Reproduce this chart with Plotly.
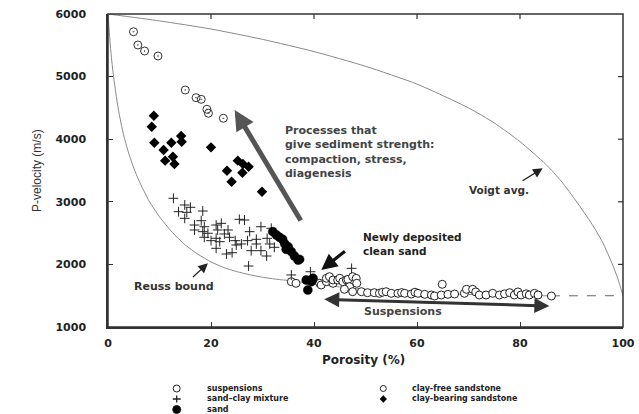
import plotly.graph_objects as go

# ---------------- data ----------------
# Voigt average and Reuss bound (porosity %, P-velocity m/s)
voigt_phi = [0, 10, 20, 30, 40, 50, 60, 70, 75, 80, 85, 88, 91, 94, 96, 98, 99, 100]
voigt_v = [6000, 5890, 5760, 5595, 5400, 5165, 4880, 4500, 4260, 3960, 3600, 3330, 3000, 2640, 2360, 1990, 1770, 1500]

reuss_phi = [0, 0.5, 1, 2, 3, 4, 5, 6, 8, 10, 12.5, 15, 17.5, 20, 22.5, 25, 27.5, 30, 33, 36,
             40, 45, 50, 55, 60, 65, 70, 75, 80, 86, 90, 95, 100]
reuss_v = [6000, 5450, 5050, 4480, 4080, 3780, 3540, 3340, 3010, 2760, 2510, 2310, 2160, 2040, 1950,
           1885, 1835, 1795, 1760, 1735, 1690, 1640, 1600, 1570, 1548, 1532, 1520, 1510, 1503, 1498,
           1497, 1497, 1500]

susp_phi = [35.6, 36.5, 41.1, 41.4, 42.4, 42.4, 43.0, 43.7, 43.7, 44.6, 45.0, 45.6, 46.3, 46.6, 47.5,
            48.2, 48.3, 46.9, 45.9, 47.5, 49.2, 50.4, 51.7, 52.7, 53.3, 54.0, 55.0, 56.3, 57.0, 57.6,
            58.9, 59.6, 60.2, 61.5, 62.8, 63.4, 64.7, 64.9, 66.0, 67.3, 69.2, 69.6, 70.8, 71.4, 72.1,
            73.4, 74.7, 76.0, 77.0, 78.0, 78.9, 79.6, 80.2, 81.2, 81.8, 82.8, 83.5, 86.1]
susp_v = [1724, 1698, 1698, 1671, 1724, 1778, 1804, 1698, 1751, 1751, 1778, 1724, 1751, 1761, 1804,
          1777, 1698, 1644, 1602, 1564, 1564, 1548, 1548, 1538, 1555, 1564, 1538, 1538, 1550, 1538,
          1527, 1555, 1538, 1522, 1511, 1495, 1511, 1682, 1522, 1527, 1538, 1602, 1602, 1560, 1511,
          1511, 1538, 1511, 1530, 1548, 1511, 1560, 1511, 1530, 1511, 1538, 1511, 1495]

mix_phi = [12.7, 14.9, 16.0, 13.7, 15.3, 18.4, 14.9, 18.1, 16.8, 18.7, 21.0, 22.0, 25.5, 26.5, 18.4,
           19.4, 21.3, 23.3, 22.6, 23.6, 27.5, 29.7, 18.7, 20.0, 21.0, 21.7, 24.7, 25.9, 27.1, 28.8,
           28.8, 30.9, 31.4, 32.3, 21.0, 24.9, 27.8, 29.7, 23.0, 24.1, 30.8, 27.3, 16.8, 31.7, 35.6,
           39.3, 47.3]
mix_v = [3056, 2949, 2912, 2842, 2832, 2853, 2736, 2698, 2629, 2602, 2629, 2656, 2720, 2709, 2523,
         2497, 2550, 2550, 2486, 2433, 2523, 2602, 2433, 2379, 2417, 2363, 2379, 2326, 2379, 2401,
         2326, 2417, 2326, 2273, 2257, 2310, 2219, 2219, 2166, 2187, 2134, 1974, 2550, 2577, 1831,
         1883, 1937]

sand_phi = [32.0, 32.7, 33.3, 33.9, 34.3, 34.6, 35.0, 35.6, 36.2, 36.9, 37.2, 38.5, 39.5, 39.8, 38.8]
sand_v = [2523, 2470, 2433, 2401, 2330, 2241, 2280, 2204, 2134, 2070, 2080, 1751, 1724, 1778, 1591]

cf_phi = [4.95, 5.8, 7.1, 9.7, 15.0, 17.1, 18.1, 19.2, 19.5, 22.4]
cf_v = [5717, 5505, 5409, 5329, 4786, 4663, 4637, 4478, 4414, 4334]

cb_phi = [8.9, 8.5, 9.0, 10.8, 12.3, 14.2, 14.3, 11.1, 12.6, 12.9, 20.0, 25.2, 26.2, 27.3, 23.1,
          26.1, 24.0, 29.9]
cb_v = [4375, 4200, 3944, 3827, 3944, 4051, 3960, 3657, 3720, 3604, 3870, 3657, 3604, 3561, 3497,
        3465, 3321, 3161]

legend_names = ["suspensions", "sand\u2013clay mixture", "sand",
                "clay-free sandstone", "clay-bearing sandstone"]

x_ticks = [0, 20, 40, 60, 80, 100]
y_ticks = [1000, 2000, 3000, 4000, 5000, 6000]

# ---------------- figure ----------------
BFONT = "DejaVu Sans, Verdana, sans-serif"
RFONT = "Liberation Sans, Arial, Helvetica, sans-serif"
W, H = 639, 414
ML, MR, MT, MB = 108, 16, 14, 87
PW, PH = W - ML - MR, H - MT - MB


def px_x(px):
    return (px - ML) / PW


def px_y(py):
    return (H - MB - py) / PH


fig = go.Figure()

split = reuss_phi.index(86)
fig.add_trace(go.Scatter(x=voigt_phi, y=voigt_v, mode="lines",
                         line=dict(color="#8a8a8a", width=1, shape="spline", smoothing=0.6),
                         showlegend=False, hoverinfo="skip"))
fig.add_trace(go.Scatter(x=reuss_phi[:split + 1], y=reuss_v[:split + 1], mode="lines",
                         line=dict(color="#8a8a8a", width=1, shape="spline", smoothing=0.6),
                         showlegend=False, hoverinfo="skip"))
fig.add_trace(go.Scatter(x=reuss_phi[split:], y=reuss_v[split:], mode="lines",
                         line=dict(color="#666666", width=1, dash="dash"),
                         showlegend=False, hoverinfo="skip"))

fig.add_trace(go.Scatter(x=susp_phi, y=susp_v, mode="markers", name=legend_names[0], showlegend=False,
                         marker=dict(symbol="circle", size=8, color="white", line=dict(color="#222", width=1))))
fig.add_trace(go.Scatter(x=mix_phi, y=mix_v, mode="markers", name=legend_names[1], showlegend=False,
                         marker=dict(symbol="cross-thin-open", size=7, color="#222",
                                     line=dict(color="#222", width=1))))
fig.add_trace(go.Scatter(x=sand_phi, y=sand_v, mode="markers", name=legend_names[2], showlegend=False,
                         marker=dict(symbol="circle", size=9, color="black", line=dict(color="black", width=0.5))))
fig.add_trace(go.Scatter(x=cf_phi, y=cf_v, mode="markers", name=legend_names[3], showlegend=False,
                         marker=dict(symbol="circle-open-dot", size=8, color="#333",
                                     line=dict(color="#333", width=1))))
fig.add_trace(go.Scatter(x=cb_phi, y=cb_v, mode="markers", name=legend_names[4], showlegend=False,
                         marker=dict(symbol="diamond", size=8, color="black")))

annotations = []
shapes = []

# plot frame
shapes.append(dict(type="rect", xref="x domain", yref="y domain", x0=0, x1=1, y0=0, y1=1,
                   line=dict(color="#333", width=1.5), layer="above"))
# mirrored inside ticks on top and right
for xv in x_ticks[1:-1]:
    shapes.append(dict(type="line", xref="x", yref="y domain", ysizemode="pixel", yanchor=1,
                       x0=xv, x1=xv, y0=0, y1=-5, line=dict(color="#333", width=1.2)))
for yv in y_ticks[1:-1]:
    shapes.append(dict(type="line", xref="x domain", yref="y", xsizemode="pixel", xanchor=1,
                       x0=0, x1=-5, y0=yv, y1=yv, line=dict(color="#333", width=1.2)))

# ---- manual legend (symbols as pixel-sized shapes, labels as text) ----
leg_sym_x = [176.7, 176.7, 176.7, 383.3, 383.3]
leg_sym_y = [388.5, 399.0, 409.5, 388.5, 399.0]
leg_txt_x = [205, 205, 205, 410, 410]
leg_kind = ["open", "cross", "filled", "open_small", "diamond"]
for i in range(5):
    xa, ya = px_x(leg_sym_x[i]), px_y(leg_sym_y[i])
    base = dict(xref="paper", yref="paper", xsizemode="pixel", ysizemode="pixel", xanchor=xa, yanchor=ya)
    k = leg_kind[i]
    if k in ("open", "open_small", "filled"):
        r = 3.5 if k == "open" else (3 if k == "open_small" else 4.0)
        shapes.append(dict(type="circle", x0=-r, x1=r, y0=-r, y1=r,
                           fillcolor="black" if k == "filled" else "white",
                           line=dict(color="#222", width=1), **base))
    elif k == "cross":
        shapes.append(dict(type="path", path="M -4,0 L 4,0 M 0,-3.5 L 0,3.5",
                           line=dict(color="#222", width=1.3), **base))
    else:
        shapes.append(dict(type="path", path="M 0,3.6 L 3.4,0 L 0,-3.6 L -3.4,0 Z",
                           fillcolor="black", line=dict(color="black", width=0.5), **base))
    annotations.append(dict(x=px_x(leg_txt_x[i]), y=px_y(leg_sym_y[i] - 0.5), xref="paper", yref="paper",
                            text=legend_names[i], showarrow=False, xanchor="left", yanchor="middle",
                            font=dict(size=8, color="#222", family=BFONT, weight="bold")))

# axis titles
annotations.append(dict(x=px_x(363), y=px_y(369), xref="paper", yref="paper", text="Porosity (%)",
                        showarrow=False, font=dict(size=12, color="#222", family=BFONT, weight="bold")))
annotations.append(dict(x=px_x(28), y=px_y(171), xref="paper", yref="paper", text="P-velocity (m/s)",
                        showarrow=False, textangle=-90, font=dict(size=12, color="#333", family=RFONT)))


# in-plot texts
def txt(x, y, s, color="#333", anchor="left", size=11):
    annotations.append(dict(x=x, y=y, xref="x", yref="y", text=s, showarrow=False, xanchor=anchor,
                            align="left", yanchor="middle",
                            font=dict(size=size, color=color, family=BFONT, weight="bold")))


txt(33.9, 3790, "Processes that<br>give sediment strength:<br>compaction, stress,<br>diagenesis", color="#444")
txt(49.2, 2322, "Newly deposited<br>clean sand", color="#222", size=10.5)
txt(76.0, 3190, "Voigt avg.", anchor="center", size=10.5)
txt(12.9, 1645, "Reuss bound", anchor="center")
txt(57.2, 1245, "Suspensions", anchor="center", color="#444")


# arrows (head at x,y ; tail at ax,ay)
def arrow(x, y, ax, ay, color, width, size, side="end"):
    annotations.append(dict(x=x, y=y, ax=ax, ay=ay, xref="x", yref="y", axref="x", ayref="y", text="",
                            showarrow=True, arrowhead=2, arrowsize=size, arrowwidth=width,
                            arrowcolor=color, arrowside=side))


arrow(24.6, 4466, 37.6, 2677, "#555", 5, 0.8)
arrow(41.4, 1911, 46.3, 2230, "#111", 3.2, 1.0)
arrow(84.4, 3535, 80.2, 3321, "#222", 1.2, 1.6)
arrow(19.4, 2018, 16.2, 1778, "#222", 1.2, 1.6)
arrow(85.7, 1335, 41.7, 1442, "#333", 3, 1.0, side="end+start")

axis_common = dict(showgrid=False, zeroline=False, showline=True, linecolor="#333", linewidth=1.5,
                   ticks="inside", ticklen=5, tickwidth=1.2, tickcolor="#333",
                   tickfont=dict(size=11, color="#222", family=BFONT, weight="bold"))

fig.update_layout(
    width=W, height=H,
    margin=dict(l=ML, r=MR, t=MT, b=MB, pad=0, autoexpand=False),
    paper_bgcolor="white", plot_bgcolor="white",
    showlegend=False,
    xaxis=dict(range=[0, 100], tickvals=x_ticks, ticklabelstandoff=5, **axis_common),
    yaxis=dict(range=[1000, 6000], tickvals=y_ticks, ticklabelstandoff=18, **axis_common),
    annotations=annotations,
    shapes=shapes,
)

fig.write_html("out.html")
